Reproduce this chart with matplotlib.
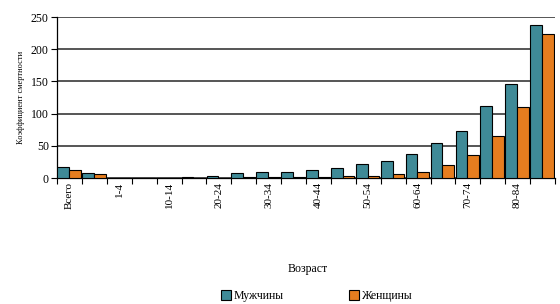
import matplotlib.pyplot as plt
import numpy as np

plt.rcParams['font.family'] = ['Liberation Serif', 'DejaVu Serif']

# возрастные группы
groups = ["Всего", "<1", "1-4", "5-9", "10-14", "15-19", "20-24", "25-29",
          "30-34", "35-39", "40-44", "45-49", "50-54", "55-59", "60-64",
          "65-69", "70-74", "75-79", "80-84", "85+"]
# подписи показаны через одну
shown_labels = ["Всего", "1-4", "10-14", "20-24", "30-34", "40-44",
                "50-54", "60-64", "70-74", "80-84"]

men = [18, 8, 0.5, 0.3, 0.4, 1, 3, 8, 10, 10, 12, 16, 22, 27, 38,
       55, 73, 112, 146, 238]
women = [13, 6, 0.4, 0.2, 0.3, 0.5, 0.6, 1, 1, 2, 2, 3, 4, 6, 10,
         20, 36, 65, 110, 224]

men_color = "#3f8a97"
women_color = "#e57d1f"

fig = plt.figure(figsize=(5.6, 3.04), dpi=100)
ax = fig.add_axes([0.102, 0.414, 0.889, 0.53])

x = np.arange(len(groups))
w = 0.47
ax.bar(x - 0.26, men, w, color=men_color, edgecolor="black", linewidth=0.8,
       label="Мужчины", zorder=3)
ax.bar(x + 0.21, women, w, color=women_color, edgecolor="black", linewidth=0.8,
       label="Женщины", zorder=3)

ax.set_xlim(-0.5, len(groups) - 0.5)
ax.set_ylim(0, 250)
ax.set_yticks(range(0, 251, 50))
ax.yaxis.grid(True, color="#555555", linewidth=1.4, zorder=0)

# засечки на границах категорий, подписи в центрах
ax.set_xticks(np.arange(len(groups) + 1) - 0.5)
ax.set_xticklabels([])
ax.set_xticks([groups.index(g) for g in shown_labels], minor=True)
ax.set_xticklabels(shown_labels, minor=True, rotation=90, fontsize=8)
ax.tick_params(axis="x", which="minor", length=0, pad=3)
ax.tick_params(axis="x", which="major", length=4, width=0.8, direction="out")
ax.tick_params(axis="y", labelsize=8.5, length=4, width=0.8, pad=2)

for side in ["top", "right"]:
    ax.spines[side].set_visible(False)
ax.spines["left"].set_linewidth(0.9)
ax.spines["bottom"].set_linewidth(0.9)

ax.set_ylabel("Коэффициент смертности", fontsize=6, labelpad=4)
fig.text(0.55, 0.115, "Возраст", ha="center", va="center", fontsize=8.5)

fig.legend(loc="center", bbox_to_anchor=(0.565, 0.025), ncol=2, frameon=False,
           fontsize=8.5, handlelength=0.9, handleheight=0.9, handletextpad=0.2,
           columnspacing=5.5)

fig.savefig("out.png", dpi=100)
